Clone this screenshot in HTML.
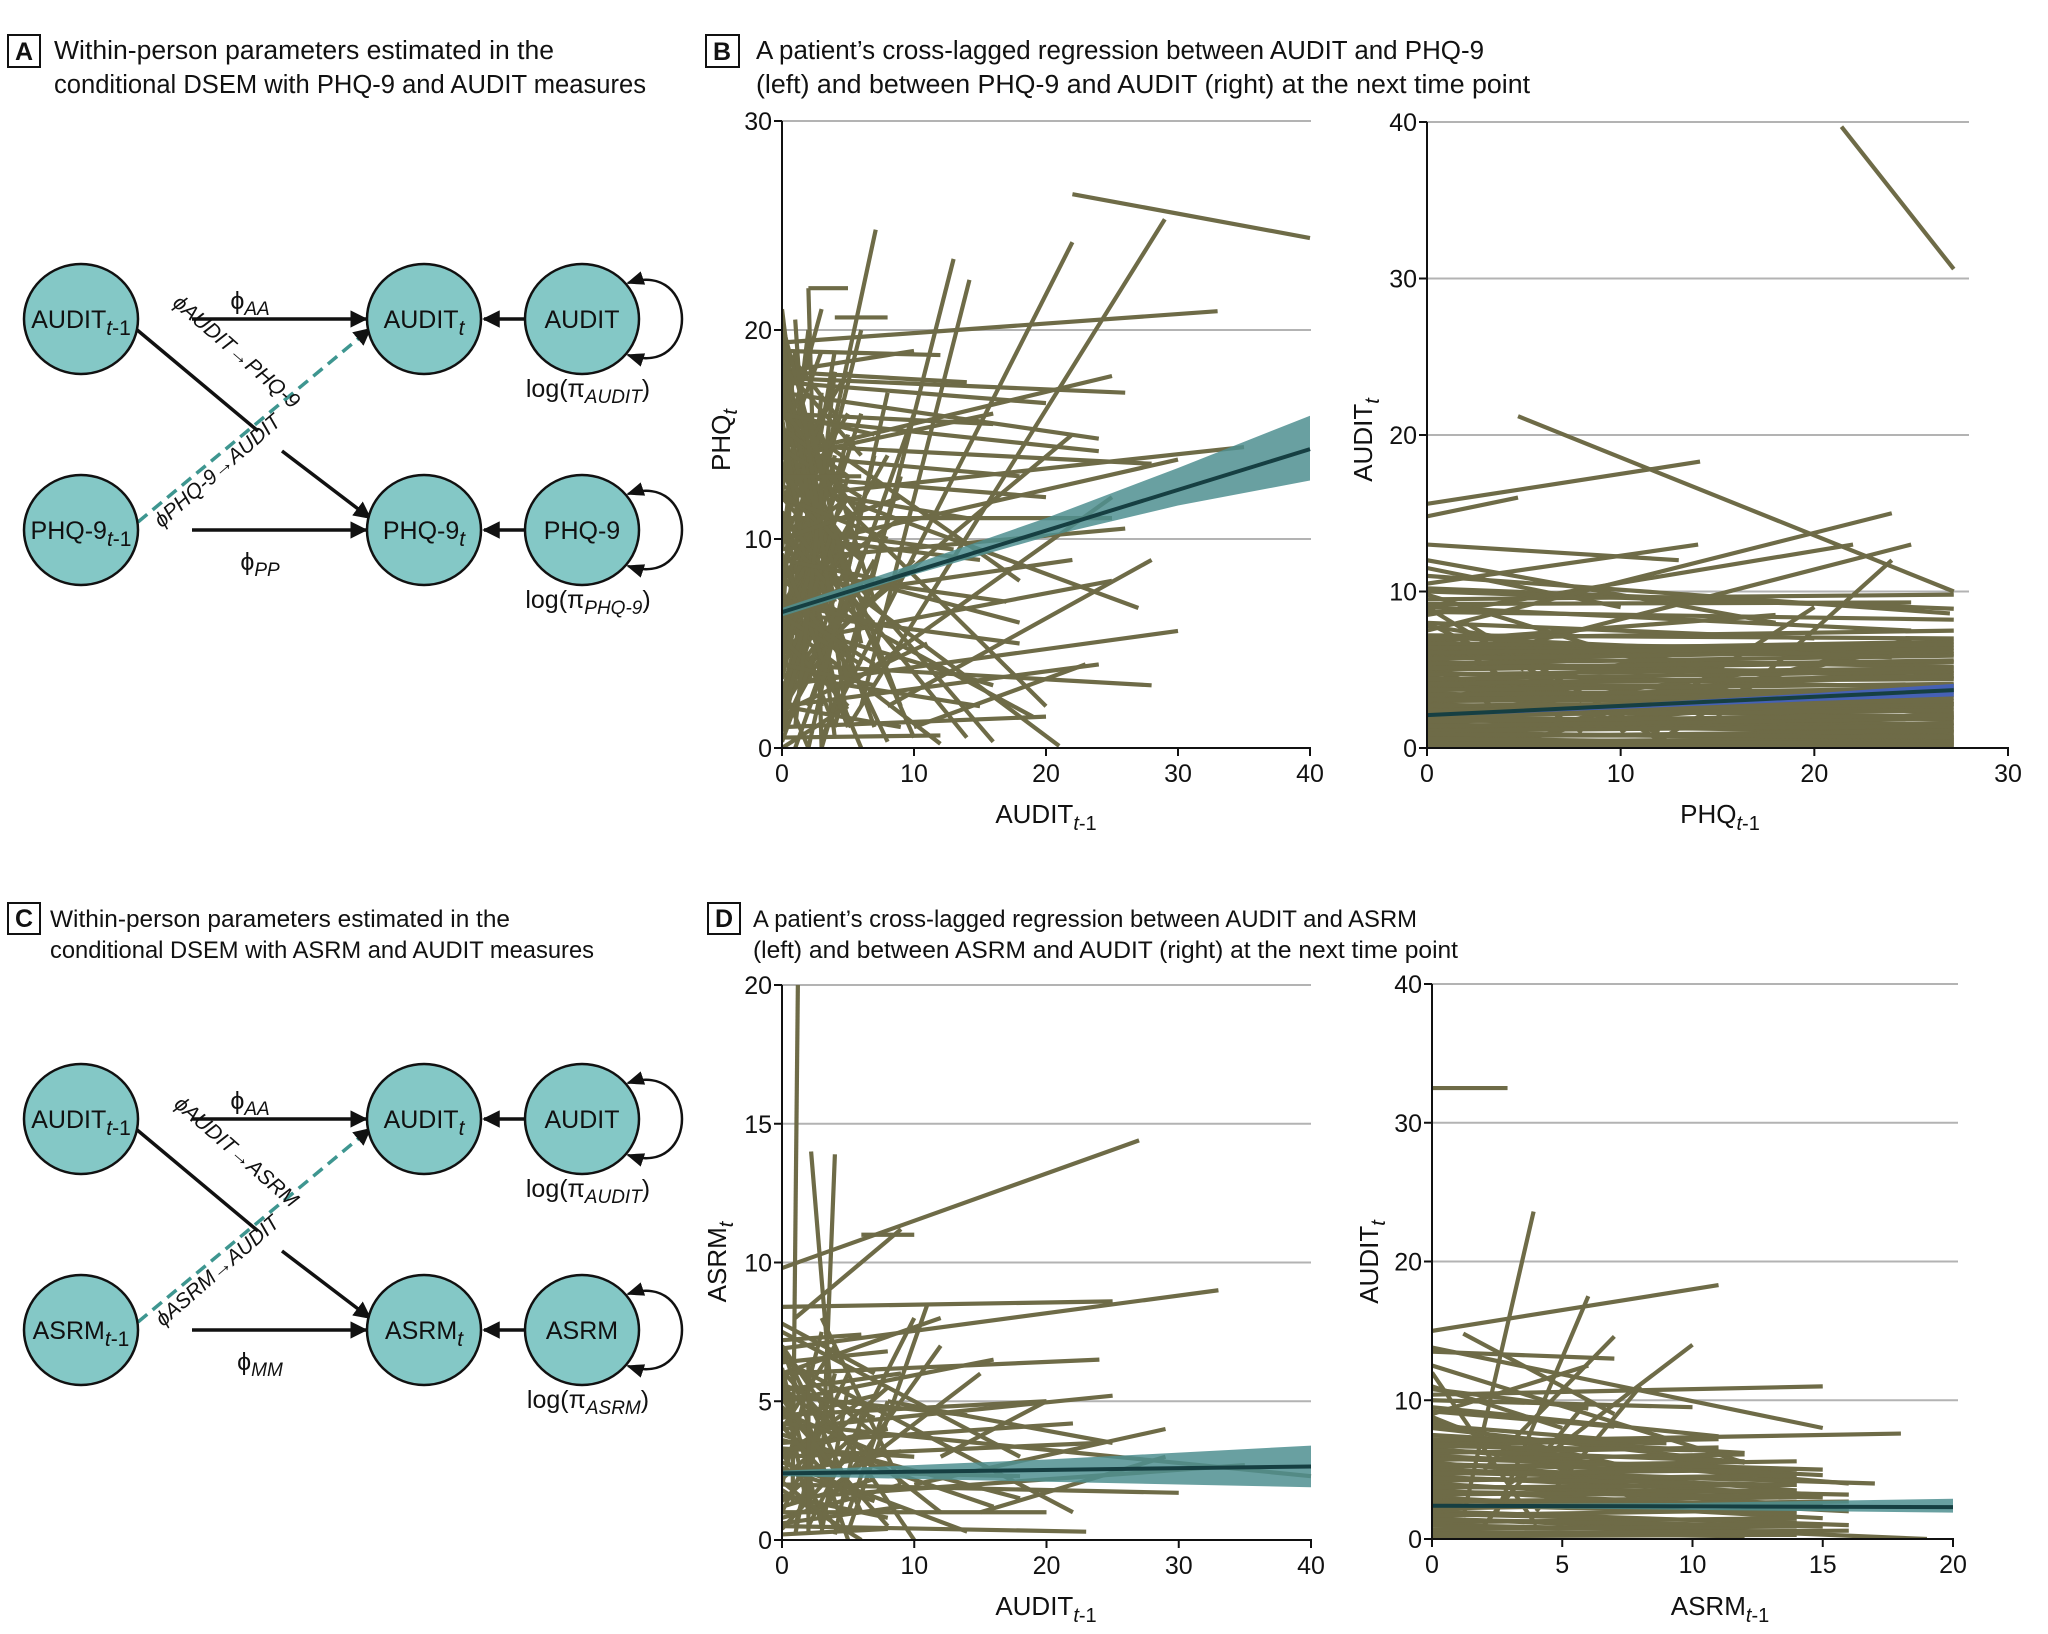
<!DOCTYPE html>
<html><head><meta charset="utf-8"><style>
html,body{margin:0;padding:0;background:#fff}
svg{display:block}
text{font-family:"Liberation Sans Narrow","Liberation Sans",sans-serif;fill:#111}
</style></head><body>
<svg id="fig" width="2048" height="1634" viewBox="0 0 2048 1634" xmlns="http://www.w3.org/2000/svg">
<defs>
<marker id="arr" viewBox="0 0 10 10" refX="9" refY="5" markerWidth="5" markerHeight="5" orient="auto"><path d="M0,0 L10,5 L0,10 z" fill="#111"/></marker>
<marker id="arrs" viewBox="0 0 10 10" refX="9" refY="5" markerWidth="7" markerHeight="7" orient="auto"><path d="M0,1 L10,5 L0,9 z" fill="#111"/></marker>
<marker id="arrb" viewBox="0 0 10 10" refX="1" refY="5" markerWidth="7" markerHeight="7" orient="auto"><path d="M10,1 L0,5 L10,9 z" fill="#111"/></marker>
</defs>
<g>
<rect x="8" y="35" width="32" height="32" fill="none" stroke="#111" stroke-width="2"/>
<text x="24" y="60" font-size="25" font-weight="bold" text-anchor="middle">A</text>
<text x="54" y="59" font-size="25.5" textLength="500" lengthAdjust="spacingAndGlyphs">Within-person parameters estimated in the</text>
<text x="54" y="93" font-size="25.5" textLength="592" lengthAdjust="spacingAndGlyphs">conditional DSEM with PHQ-9 and AUDIT measures</text>
</g>
<g>
<rect x="706" y="35" width="33" height="32" fill="none" stroke="#111" stroke-width="2"/>
<text x="722" y="60" font-size="25" font-weight="bold" text-anchor="middle">B</text>
<text x="756" y="59" font-size="25.5" textLength="728" lengthAdjust="spacingAndGlyphs">A patient’s cross-lagged regression between AUDIT and PHQ-9</text>
<text x="756" y="93" font-size="25.5" textLength="774" lengthAdjust="spacingAndGlyphs">(left) and between PHQ-9 and AUDIT (right) at the next time point</text>
</g>
<g>
<rect x="8" y="903" width="32" height="31" fill="none" stroke="#111" stroke-width="2"/>
<text x="24" y="927" font-size="25" font-weight="bold" text-anchor="middle">C</text>
<text x="50" y="927" font-size="24.5" textLength="460" lengthAdjust="spacingAndGlyphs">Within-person parameters estimated in the</text>
<text x="50" y="958" font-size="24.5" textLength="544" lengthAdjust="spacingAndGlyphs">conditional  DSEM with ASRM and AUDIT measures</text>
</g>
<g>
<rect x="708" y="903" width="32" height="31" fill="none" stroke="#111" stroke-width="2"/>
<text x="724" y="927" font-size="25" font-weight="bold" text-anchor="middle">D</text>
<text x="753" y="927" font-size="24.5" textLength="664" lengthAdjust="spacingAndGlyphs">A patient’s cross-lagged regression between AUDIT and ASRM</text>
<text x="753" y="958" font-size="24.5" textLength="705" lengthAdjust="spacingAndGlyphs">(left) and between ASRM and AUDIT (right) at the next time point</text>
</g>
<g id="diagA"></g>
<g id="diagC"></g>
<g id="charts"></g>
</svg>
<script>
// ---------- chart data ----------
const bLeftSegments = [
[22,26.5,40,24.4],[5,1,29,25.3],[0,19.4,33,20.9],[3,0.5,22,24.2],[0.2,4.5,7.1,24.8],[4,1,13,23.4],[6,2,14.2,22.4],[2,22,5,22],[4,20.6,8,20.6],[0,17.7,26,17],[0,17,24,14.8],[0,15.8,24,14.2],[0,14.5,28,13.6],[0,12,35,14.4],[0,9.5,30,13.8],[0,16,18,8],[0,18,10,19],[0,21,4,0.5],[1,20.5,3,2],[2,22,3,0],[0,13,27,6.7],[0,3,30,5.6],[0,10,21,0.1],[0,8,19,1.5],[0,12,16,0.3],[0,6,12,0.2],[0,15,10,0.5],[0,2,24,4],[0,4,28,3],[0,1,20,1.5],[0,5,25,8],[0,7,22,9],[0,9,26,10.5],[0,11,25,11],[0,13,20,12],[0,14,18,13],[0,16,16,15.5],[0,18,14,17.5],[0,19,12,18.8],[1,0,10,16],[2,0,8,17],[3,0,9,13],[0,0.5,12,0.6],[0,3.5,15,2],[0,6.5,18,5],[0,8.5,17,7],[0,10.5,13,9.5],[0,12.5,14,11],[0,1.5,6,12],[0,2.5,5,15],[0,4,4,19],[1,3,3,17],[0.5,6,6,20],[0,9,6,0],[0,11,8,0.3],[0,13.5,7,1],[0,17,9,2],[0,19,5,3],[0,20,2,6],[0,5,8,14],[0,7,9,11],[3,5,22,15],[5,3,25,12],[8,2,28,9],[10,1,23,4],[0,14,25,17.8],[6,8,18,6],[2,10,15,9],[0,3,10,9],[0,1,7,9],[1,14,16,16],[0,17.5,20,16.5],[4,12,20,2],[3,9,14,0.5],[0,6,16,3],[1,2,11,5],[0,0,5,2],[0,2,3,8],[0,4.5,2,14],[0,11,3,4],[0,15,2,9],[0,18.5,1.5,12],[0,7.5,4,1],[0,3,2,0],[0,9.5,2,20],[0,12,1,19],[0,5.5,1,16],[0,16.5,5,8],[0,8,4,18],[0,14,3,21],[0,1,4,10],[0,6,3,12],
[0,0.8,3,5],[0,1.8,4,6],[0,2.8,5,7],[0,3.8,4,9],[0,4.8,5,10],[0,5.8,4,11],[0,6.8,5,12],[0,7.8,4,13],[0,8.8,5,14],[0,9.8,4,15],[0,10.8,5,16],[0,11.8,4,17],[0,12.8,5,18],[0,13.8,3,19],[0,14.8,4,3],[0,15.8,3,4],[0,16.8,4,5],[0,17.8,5,6],[0,18.8,4,7],[0,19.8,3,8],[0,0.3,5,9],[0,1.3,4,11],[0,2.3,5,13],[0,3.3,4,14],[0,4.3,6,16],[0,5.3,5,2],[0,6.3,6,4],[0,7.3,5,5],[0,8.3,6,3],[0,9.3,5,1],[0,10.3,6,6],[0,11.3,5,7],[0,12.3,6,9],[0,13.3,4,10],[0,14.3,6,12],[0,15.3,5,13],[0,16.3,6,11],[0,17.3,4,12],[0,18.3,6,14],[0,19.3,4,16],[0,20.3,3,13],[1,1,4,18],[1,19,5,1],[2,2,6,9],[2,16,6,5],[1,10,5,12],[2,6,7,4],[1,13,6,9],[3,3,7,14],[3,15,7,7],[0,7,7,6],[0,9,8,8],[0,4,7,3],[0,13,6,13],[0,16,7,15],[0,10,9,12],[0,2,9,1],[0,12,8,10]
];
const bLeftFit = [6.5, 14.3];
const bLeftBandX = [0,10,20,30,40];
const bLeftBandLo = [6.3,8.3,10.1,11.6,12.8];
const bLeftBandHi = [6.7,8.8,11.0,13.4,15.9];

const bRightSegments = [
[21.4,39.7,27.2,30.6],[4.7,21.2,27.2,10],[0,15.6,14.1,18.3],[0,14.8,4.7,16],[0,10.2,27.2,8.9],[0,10,20,9.2],[0,9.5,27.2,9.8],[0,9,25,7.5],[0,8.5,22,13],[0,7.5,24,15],[3,6,25,13],[0,12,18,8],[0,11,27,8.6],[0,6,27.2,6],[0,5.5,27.2,4.5],[0,5,27.2,5.5],[0,4.5,27,3],[0,4,27.2,4],[0,3.5,26,2.5],[0,3,27.2,3.2],[0,2.5,27.2,2],[0,2,27.2,1.5],[0,1.5,27.2,1],[0,1,27.2,0.5],[0,0.5,27.2,0.3],[0,0.2,20,0.2],[0,7,27.2,7.5],[0,6.5,25,6],[0,8,20,7],[0,7.8,15,5],[0,9.8,10,6],[0,6.8,18,8.5],[2,0.3,23,6],[5,0.5,25,7],[0,5,12,1],[0,9,8,3],[0,3,15,6.5],[0,2,18,5],[0,1,22,3],[0,4,27.2,2.2],[0,5.8,27.2,5.2],[0,6.2,27.2,6.8],[0,4.8,27.2,3.8],[0,3.8,27.2,2.8],[0,2.8,27.2,1.8],[0,1.8,27.2,1.2],[0,0.8,27.2,0.8],[0,10.5,14,13],[0,11.5,10,9],[0,13,13,12],[0,9.2,25,9.3],[0,8.7,27.2,8.2],[10,1,20,9],[15,2,24,12],[12,0.5,18,5],[0,6,6,0],[1,7,8,1],[2,8,12,0.5],[0,8,5,5],[0,7.2,27.2,7.0],[0,5.2,27.2,4.8],[0,4.2,27.2,4.4],[0,3.2,27.2,3.6],[0,2.2,27.2,2.6],[0,1.2,27.2,1.6],
[0,0.1,27.2,0.1],[0,0.4,27.2,0.6],[0,0.7,27.2,1.1],[0,1.1,27.2,1.4],[0,1.4,27.2,1.9],[0,1.7,27.2,2.1],[0,2.1,27.2,2.4],[0,2.4,27.2,2.8],[0,2.7,27.2,3.0],[0,3.1,27.2,3.4],[0,3.4,27.2,3.8],[0,3.7,27.2,4.1],[0,4.1,27.2,4.6],[0,4.4,27.2,4.9],[0,4.7,27.2,5.1],[0,5.1,27.2,5.6],[0,5.4,27.2,5.9],[0,5.7,27.2,6.2],[0,6.1,27.2,6.4],[0,6.4,27.2,6.6],[0,6.7,25,6.3],[0,7.1,24,5.8],[0,0.3,27.2,0.4],[0,0.6,27.2,0.2],[0,0.9,27.2,0.7]
];
const bRightFit = [2.1, 3.7];
const bRightFitXEnd = 27.2;
const bRightBandX = [0,10,20,27.2];
const bRightBandLo = [2.0,2.5,3.0,3.3];
const bRightBandHi = [2.2,2.8,3.5,4.1];

const dLeftSegments = [
[0.8,1.3,1.2,20],[0,9.8,27,14.4],[2.2,14,4,3.6],[4,13.9,3,2],[0,8.4,25,8.6],[0,6.9,33,9],[6,11,10,11],[0,7,10,0],[1,8,9,11.2],[0,6,12,8],[0,5,16,6.5],[0,4.5,20,5],[0,4,25,5.2],[0,3.5,22,4.2],[0,3,24,3.5],[0,2.5,18,2.3],[0,2,30,1.7],[0,1.5,35,2.7],[0,1,20,1],[0,0.5,23,0.3],[0,6.5,22,1],[0,7.5,18,3],[0,5.5,12,1],[0,4.8,8,0.5],[0,3.8,16,1.2],[0,2.8,14,0.3],[2,0.5,10,8],[3,1,12,7],[5,0.3,11,8.5],[4,2,15,6],[0,7,5,0],[1,6,6,1],[0,6.2,3,0.5],[0,5.8,2,1],[0,4,4,7],[0,1,5,6],[0,2,3,7.5],[1,0.5,4,6],[0,3,6,5],[10,2,29,4],[12,3,20,5],[8,5,25,3.5],[0,6,24,6.5],[0,4.2,40,2.3],[15,1,29,3],[0,3.3,10,3],[0,2.2,8,5.5],[0,1.8,6,0],[0,0.8,9,2],[0,5.2,14,4.5],[0,7.8,7,6],[6,3,18,1.5],[3,8,9,2],
[0,0.2,8,0.4],[0,0.6,9,1.2],[0,1.2,7,2.2],[0,1.6,8,0.8],[0,2.4,9,3.2],[0,2.6,7,1.4],[0,3.2,8,4],[0,3.6,9,2.6],[0,4.4,7,5.2],[0,4.6,8,3],[0,5.4,9,6],[0,5.6,7,4.4],[0,6.4,8,6.8],[0,6.6,7,3.8],[0,7.2,6,7.4],[0,0.4,5,3],[0,1.4,6,4],[0,2.1,5,0.2],[0,3.1,4,0.5],[0,4.1,5,1.5],[0,5.1,4,2.5],[0,6.1,5,3.5],[1,0.2,3,5],[2,0.2,2,6.5],[3,0.3,5,5.5],[4,0.2,6,4.5],[5,1,8,5]
];
const dLeftFit = [2.4, 2.65];
const dLeftBandX = [0,10,20,30,40];
const dLeftBandLo = [2.3,2.2,2.1,2.0,1.9];
const dLeftBandHi = [2.5,2.7,2.9,3.15,3.4];

const dRightSegments = [
[0,32.5,2.9,32.5],[1.2,1.6,3.9,23.6],[0,15,11,18.3],[2.5,2,6,17.5],[1.2,14.8,7,9],[0,13.8,15,8],[0,13.5,7,13],[0,12.5,12,5.5],[0,10.4,15,11],[0,10,10,9.5],[0,9.5,11,7.4],[3,4,10,14],[2,5,7,14.6],[0,8.5,8,5],[0,8,12,5.5],[0,7,18,7.6],[0,6.5,16,4],[0,6,15,4.6],[0,5.5,14,3.5],[0,5,17,4],[0,4.5,15,3.2],[0,4,14,2.5],[0,3.5,16,2],[0,3,15,1.5],[0,2.5,14,1.8],[0,2,16,1],[0,1.5,19,0],[0,1,14,0.5],[0,0.5,12,0.2],[0,11,5,8],[0,9,6,12.5],[2,1,6,10],[4,2,8,11],[0,6.8,11,7.2],[0,7.5,12,6.2],[0,4.8,14,4.2],[0,3.8,16,3.2],[0,2.8,15,2.5],[0,1.8,14,1.2],[0,5.8,15,5],[0,8.8,9,2],[0,12,4,1],
[0,0.2,14,0.3],[0,0.7,14,0.9],[0,1.2,14,1.5],[0,1.7,14,2.1],[0,2.2,14,2.6],[0,2.7,14,3.0],[0,3.2,14,3.5],[0,3.7,14,3.9],[0,4.2,14,4.6],[0,4.7,14,5.0],[0,5.2,14,5.6],[0,5.7,12,6.1],[0,6.2,11,6.6],[0,6.7,10,6.4],[0,0.4,16,0.6],[0,1.4,15,0.9],[0,2.4,16,2.7],[0,3.4,15,3.0],[0,4.4,14,3.9],[0,5.4,13,4.8],[0,6.4,12,5.6],[0,7.2,9,6.9],[0,8.2,8,7.0],[0,9.2,7,8.1],[0,10.8,6,9.4]
];
const dRightFit = [2.4, 2.3];
const dRightBandX = [0,10,20];
const dRightBandLo = [2.3,2.1,1.9];
const dRightBandHi = [2.5,2.6,2.9];

const bLeftXTicks = [0,10,20,30,40];
const bLeftYTicks = [0,10,20,30];
const bRightXTicks = [0,10,20,30];
const bRightYTicks = [0,10,20,30,40];
const dLeftXTicks = [0,10,20,30,40];
const dLeftYTicks = [0,5,10,15,20];
const dRightXTicks = [0,5,10,15,20];
const dRightYTicks = [0,10,20,30,40];

// ---------- drawing ----------
const NS = "http://www.w3.org/2000/svg";
function mk(tag, attrs, parent){const e=document.createElementNS(NS,tag);for(const k in attrs)e.setAttribute(k,attrs[k]);parent.appendChild(e);return e;}
const charts = document.getElementById('charts');
let clipId=0;

function drawPanel(cfg){
  const g = mk('g',{},charts);
  
  
  const sx = v => cfg.px0 + (v/cfg.xMax)*(cfg.px1-cfg.px0);
  const sy = v => cfg.py0 - (v/cfg.yMax)*(cfg.py0-cfg.py1);
  cfg.yTicks.forEach(t=>{
    if(t===0) return;
    const l = mk('line',{x1:sx(0),x2:cfg.gridRight,y1:sy(t),y2:sy(t),stroke:'#b3b3b3','stroke-width':2},g);
    
    
  });
  const id='clip'+(clipId++);
  const cp = mk('clipPath',{id:id},g);
  mk('rect',{x:sx(0),y:sy(cfg.yMax)-4,width:sx(cfg.xMax)-sx(0)+4,height:sy(0)-sy(cfg.yMax)+4},cp);
  const lines = mk('g',{'clip-path':'url(#'+id+')'},g);
  
  
  cfg.segs.forEach(s=>{
    const l = mk('line',{x1:sx(s[0]),y1:sy(s[1]),x2:sx(s[2]),y2:sy(s[3]),stroke:'#6e6b47','stroke-width':4.2,'stroke-linecap':'butt'},lines);
    
    
  });
  let d='';
  cfg.bandX.forEach((x,i)=>{d+=(i?'L':'M')+sx(x)+','+sy(cfg.bandHi[i]);});
  for(let i=cfg.bandX.length-1;i>=0;i--) d+='L'+sx(cfg.bandX[i])+','+sy(cfg.bandLo[i]);
  d+='Z';
  const band = mk('path',{d:d,fill:cfg.bandColor,'fill-opacity':0.85},g);
  
  
  const xe = cfg.fitXEnd!==undefined?cfg.fitXEnd:cfg.xMax;
  const fit = mk('line',{x1:sx(0),y1:sy(cfg.fit[0]),x2:sx(xe),y2:sy(cfg.fit[1]),stroke:'#163f42','stroke-width':4},g);
  
  
  const ax = mk('g',{},g);
  
  
  mk('line',{x1:sx(0),x2:sx(0),y1:sy(0)+1,y2:sy(cfg.yMax),stroke:'#111','stroke-width':2},ax);
  mk('line',{x1:sx(0)-1,x2:sx(cfg.xMax)+1,y1:sy(0),y2:sy(0),stroke:'#111','stroke-width':2},ax);
  cfg.xTicks.forEach(t=>{
    mk('line',{x1:sx(t),x2:sx(t),y1:sy(0),y2:sy(0)+8,stroke:'#111','stroke-width':2},ax);
    const tx = mk('text',{x:sx(t),y:sy(0)+34,'font-size':25,'text-anchor':'middle'},ax);
    tx.textContent=t;
    
    
  });
  cfg.yTicks.forEach(t=>{
    mk('line',{x1:sx(0)-8,x2:sx(0),y1:sy(t),y2:sy(t),stroke:'#111','stroke-width':2},ax);
    const tx = mk('text',{x:sx(0)-10,y:sy(t)+9,'font-size':25,'text-anchor':'end'},ax);
    tx.textContent=t;
    
    
  });
  const xt = mk('text',{x:cfg.xTitlePos[0],y:cfg.xTitlePos[1],'font-size':26,'text-anchor':'middle'},g);
  xt.innerHTML = cfg.xTitle+'<tspan font-style="italic" font-size="20" dy="7">t</tspan><tspan font-size="20">-1</tspan>';
  
  
  const yt = mk('text',{transform:'translate('+cfg.yTitlePos[0]+','+cfg.yTitlePos[1]+') rotate(-90)','font-size':26,'text-anchor':'middle'},g);
  yt.innerHTML = cfg.yTitle+'<tspan font-style="italic" font-size="20" dy="7">t</tspan>';
  
  
}

drawPanel({name:'chart-b-left',px0:782,px1:1310,py0:748,py1:121,xMax:40,yMax:30,gridRight:1311,segs:bLeftSegments,fit:bLeftFit,bandX:bLeftBandX,bandLo:bLeftBandLo,bandHi:bLeftBandHi,bandColor:'#4f8f91',xTicks:bLeftXTicks,yTicks:bLeftYTicks,xTitle:'AUDIT',yTitle:'PHQ',xTitlePos:[1046,823],yTitlePos:[730,440]});
drawPanel({name:'chart-b-right',px0:1427,px1:2008,py0:748,py1:122,xMax:30,yMax:40,gridRight:1969,segs:bRightSegments,fit:bRightFit,fitXEnd:bRightFitXEnd,bandX:bRightBandX,bandLo:bRightBandLo,bandHi:bRightBandHi,bandColor:'#3f5fc9',xTicks:bRightXTicks,yTicks:bRightYTicks,xTitle:'PHQ',yTitle:'AUDIT',xTitlePos:[1720,823],yTitlePos:[1372,440]});
drawPanel({name:'chart-d-left',px0:782,px1:1311,py0:1540,py1:985,xMax:40,yMax:20,gridRight:1311,segs:dLeftSegments,fit:dLeftFit,bandX:dLeftBandX,bandLo:dLeftBandLo,bandHi:dLeftBandHi,bandColor:'#4f8f91',xTicks:dLeftXTicks,yTicks:dLeftYTicks,xTitle:'AUDIT',yTitle:'ASRM',xTitlePos:[1046,1615],yTitlePos:[726,1262]});
drawPanel({name:'chart-d-right',px0:1432,px1:1953,py0:1539,py1:984,xMax:20,yMax:40,gridRight:1958,segs:dRightSegments,fit:dRightFit,bandX:dRightBandX,bandLo:dRightBandLo,bandHi:dRightBandHi,bandColor:'#4f8f91',xTicks:dRightXTicks,yTicks:dRightYTicks,xTitle:'ASRM',yTitle:'AUDIT',xTitlePos:[1720,1615],yTitlePos:[1378,1262]});

// ---------- path diagrams ----------
function diagram(gid, oy, top, bot, phiTop, phiBot, diag1, diag2, loopTop, loopBot){
  const g=document.getElementById(gid);
  const y1=319+oy, y2=530+oy;
  const node=(cx,cy,label,sub,name)=>{
    const c=mk('ellipse',{cx:cx,cy:cy,rx:57,ry:55,fill:'#84c8c6',stroke:'#111','stroke-width':2.5},g);
    
    
    const t=mk('text',{x:cx,y:cy+9,'font-size':25,'text-anchor':'middle'},g);
    t.innerHTML=label+(sub?'<tspan font-style="italic" font-size="21" dy="7">'+sub[0]+'</tspan>'+(sub[1]?'<tspan font-size="21">'+sub[1]+'</tspan>':''):'');
  };
  mk('line',{x1:192,y1:y1,x2:366,y2:y1,stroke:'#111','stroke-width':3.5,'marker-end':'url(#arr)'},g);
  mk('line',{x1:192,y1:y2,x2:366,y2:y2,stroke:'#111','stroke-width':3.5,'marker-end':'url(#arr)'},g);
  mk('line',{x1:528,y1:y1,x2:484,y2:y1,stroke:'#111','stroke-width':3.5,'marker-end':'url(#arr)'},g);
  mk('line',{x1:528,y1:y2,x2:484,y2:y2,stroke:'#111','stroke-width':3.5,'marker-end':'url(#arr)'},g);
  mk('line',{x1:136,y1:y1+10,x2:258,y2:y1+112,stroke:'#111','stroke-width':3.5},g);
  mk('line',{x1:282,y1:y1+132,x2:370,y2:y2-12,stroke:'#111','stroke-width':3.5,'marker-end':'url(#arr)'},g);
  mk('line',{x1:138,y1:y2-8,x2:370,y2:y1+10,stroke:'#3e9690','stroke-width':3.5,'stroke-dasharray':'12,7','marker-end':'url(#arr)'},g);
  [y1,y2].forEach(y=>{mk('path',{d:'M628,'+(y-36)+' C700,'+(y-60)+' 700,'+(y+60)+' 628,'+(y+36),fill:'none',stroke:'#111','stroke-width':2.5,'marker-end':'url(#arrs)','marker-start':'url(#arrb)'},g);});
  node(81,y1,top[0],top[1],'node-'+top[0].toLowerCase()+'-lag');
  node(424,y1,top[0],['t'],'node-'+top[0].toLowerCase()+'-t');
  node(582,y1,top[0],null,'node-'+top[0].toLowerCase()+'-intercept');
  node(81,y2,bot[0],bot[1],'node-'+bot[0].toLowerCase()+'-lag');
  node(424,y2,bot[0],['t'],'node-'+bot[0].toLowerCase()+'-t');
  node(582,y2,bot[0],null,'node-'+bot[0].toLowerCase()+'-intercept');
  const lab=(x,y,html)=>{const t=mk('text',{x:x,y:y,'font-size':25,'text-anchor':'middle'},g);t.innerHTML=html;return t;};
  lab(250,y1-10,'ϕ<tspan font-style="italic" font-size="19" dy="6">'+phiTop+'</tspan>');
  lab(260,y2+40,'ϕ<tspan font-style="italic" font-size="19" dy="6">'+phiBot+'</tspan>');
  const t1=mk('text',{x:232,y:y1+38,'font-size':21,'text-anchor':'middle',transform:'rotate(41 232 '+(y1+38)+')'},g);
  t1.innerHTML='<tspan font-style="italic">ϕ'+diag1+'</tspan>';
  const t2=mk('text',{x:222,y:y2-54,'font-size':21,'text-anchor':'middle',transform:'rotate(-41 222 '+(y2-54)+')'},g);
  t2.innerHTML='<tspan font-style="italic">ϕ'+diag2+'</tspan>';
  lab(588,y1+78,'log(π<tspan font-style="italic" font-size="19" dy="6">'+loopTop+'</tspan><tspan dy="-6">)</tspan>');
  lab(588,y2+78,'log(π<tspan font-style="italic" font-size="19" dy="6">'+loopBot+'</tspan><tspan dy="-6">)</tspan>');
}
diagram('diagA',0,['AUDIT',['t','-1']],['PHQ-9',['t','-1']],'AA','PP','AUDIT→PHQ-9','PHQ-9→AUDIT','AUDIT','PHQ-9');
diagram('diagC',800,['AUDIT',['t','-1']],['ASRM',['t','-1']],'AA','MM','AUDIT→ASRM','ASRM→AUDIT','AUDIT','ASRM');
</script>
</body></html>
